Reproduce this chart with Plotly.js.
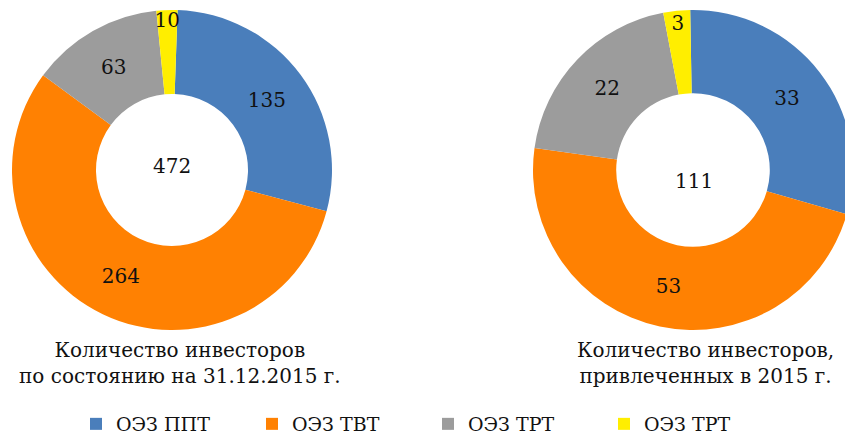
<!DOCTYPE html>
<html>
<head>
<meta charset="utf-8">
<script src="https://cdn.plot.ly/plotly-3.0.1.min.js"></script>
<style>
html,body{margin:0;padding:0;overflow:hidden;background:#fff;width:845px;height:435px;}
#chart{width:860px;height:435px;}
</style>
</head>
<body>
<div id="chart"></div>
<script>
const categories = ["ОЭЗ ППТ", "ОЭЗ ТВТ", "ОЭЗ ТРТ", "ОЭЗ ТРТ\u200b"];
const valuesTotal2015 = [135, 264, 63, 10];
const valuesAttracted2015 = [33, 53, 22, 3];
const totalLabels = ["472", "111"];
const chartTitles = ["Количество инвесторов<br>по состоянию на 31.12.2015 г.", "Количество инвесторов,<br>привлеченных в 2015 г."];
const colors = ["#4a7ebb", "#ff8102", "#9c9c9c", "#ffee00"];

const W = 860, H = 435;
const FONT = "DejaVu Serif, Liberation Serif, serif";
function dom(x0, x1, y0, y1) {
  return {x: [x0 / W, x1 / W], y: [1 - y1 / H, 1 - y0 / H]};
}

const common = {
  type: "pie",
  labels: categories,
  sort: false,
  direction: "clockwise",
  hole: 0.475,
  marker: {colors: colors, line: {width: 0}},
  textinfo: "value",
  textposition: "inside",
  insidetextorientation: "horizontal",
  textfont: {family: FONT, size: 20, color: "#111"},
  hoverinfo: "label+value"
};

const data = [
  Object.assign({}, common, {values: valuesTotal2015, rotation: 2, domain: dom(12, 332, 10, 330)}),
  Object.assign({}, common, {values: valuesAttracted2015, rotation: -1, domain: dom(533, 853, 10, 330), hole: 0.48})
];

const layout = {
  width: W, height: H,
  margin: {l: 0, r: 0, t: 0, b: 0, autoexpand: false},
  paper_bgcolor: "#fff",
  showlegend: true,
  uniformtext: {mode: "show", minsize: 20},
  legend: {
    orientation: "h",
    x: 76 / W, xanchor: "left",
    y: 1 - 424 / H, yanchor: "middle",
    font: {family: FONT, size: 19, color: "#111"},
    entrywidth: 131, entrywidthmode: "pixels",
    traceorder: "normal"
  },
  annotations: [
    {text: totalLabels[0], x: 172 / W, y: 1 - 166 / H, xref: "paper", yref: "paper", xanchor: "center", yanchor: "middle", showarrow: false, font: {family: FONT, size: 20, color: "#111"}},
    {text: totalLabels[1], x: 694 / W, y: 1 - 181 / H, xref: "paper", yref: "paper", xanchor: "center", yanchor: "middle", showarrow: false, font: {family: FONT, size: 20, color: "#111"}},
    {text: chartTitles[0], x: 180 / W, y: 1 - 363 / H, xref: "paper", yref: "paper", xanchor: "center", yanchor: "middle", showarrow: false, align: "center", font: {family: FONT, size: 20, color: "#111"}},
    {text: chartTitles[1], x: 705 / W, y: 1 - 363 / H, xref: "paper", yref: "paper", xanchor: "center", yanchor: "middle", showarrow: false, align: "center", font: {family: FONT, size: 20, color: "#111"}}
  ]
};

Plotly.newPlot("chart", data, layout, {displayModeBar: false, staticPlot: true});
</script>
</body>
</html>
